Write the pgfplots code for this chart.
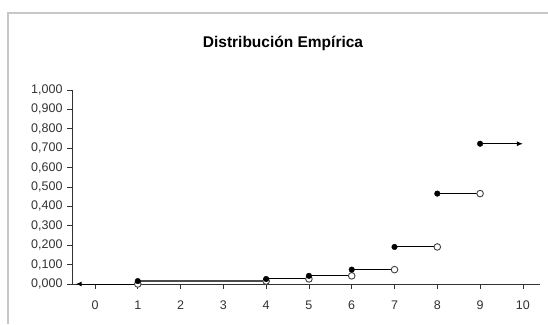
\documentclass[border=0pt]{standalone}
\usepackage{pgfplots}
\pgfplotsset{compat=1.18}
\usepackage{fontspec}
\setmainfont{Liberation Sans}
\usetikzlibrary{arrows.meta}

\begin{document}
\begin{tikzpicture}
  \useasboundingbox (0,0) rectangle (548pt,324pt);
  \fill[white] (0,0) rectangle (548pt,324pt);
  % chart frame (only top and left edges are visible)
  \draw[black!22, line width=1.6pt] (8pt,0) -- (8pt,311pt) -- (549pt,311pt);
  \node[font=\bfseries\fontsize{15.5}{18}\selectfont, anchor=base, inner sep=0pt] at (283pt,276pt) {Distribución Empírica};
  \begin{axis}
    [
	at={(72pt,40pt)}, anchor=south west,
	scale only axis,
	width=468pt, height=194pt,
	xmin=-0.537, xmax=10.4,
	ymin=0, ymax=1,
	axis x line=bottom,
	axis y line=left,
	axis line style={-, black!80, line width=0.7pt},
	xtick={0,1,...,10},
	ytick={0,0.1,...,1},
	tick align=outside,
	major tick length=5pt,
	tick style={black!80, line width=0.7pt},
	ticklabel style={font=\fontsize{12.5}{14}\selectfont, text=black!80},
	/pgf/number format/assume math mode=true,
	yticklabel style={/pgf/number format/.cd, fixed, fixed zerofill, precision=3, use comma, 1000 sep={}, /tikz/.cd, xshift=-1pt},
	xticklabel style={yshift=-8pt},
	clip=false,
    ]
    % step segments: closed end on the left, open end on the right
    \addplot[black, line width=1pt, -{Latex[length=6pt,width=5pt]}] coordinates {(1,0) (-0.45,0)};
    \addplot[black!70, line width=1.6pt] coordinates {(1,0.015) (4,0.015)};
    \addplot[black, line width=1pt] coordinates {(4,0.026) (5,0.026)};
    \addplot[black, line width=1pt] coordinates {(5,0.042) (6,0.042)};
    \addplot[black, line width=1pt] coordinates {(6,0.074) (7,0.074)};
    \addplot[black, line width=1pt] coordinates {(7,0.191) (8,0.191)};
    \addplot[black, line width=1pt] coordinates {(8,0.466) (9,0.466)};
    \addplot[black, line width=1pt, -{Latex[length=6pt,width=5pt]}] coordinates {(9,0.723) (10,0.723)};
    % open points
    \addplot[only marks, mark=*, mark size=3.3pt, mark options={fill=white, draw=black!75, line width=0.9pt}]
      coordinates {(1,0) (4,0.015) (5,0.026) (6,0.042) (7,0.074) (8,0.191) (9,0.466)};
    % closed points
    \addplot[only marks, mark=*, mark size=2.8pt, mark options={fill=black, draw=black}]
      coordinates {(1,0.015) (4,0.026) (5,0.042) (6,0.074) (7,0.191) (8,0.466) (9,0.723)};
  \end{axis}
\end{tikzpicture}
\end{document}
